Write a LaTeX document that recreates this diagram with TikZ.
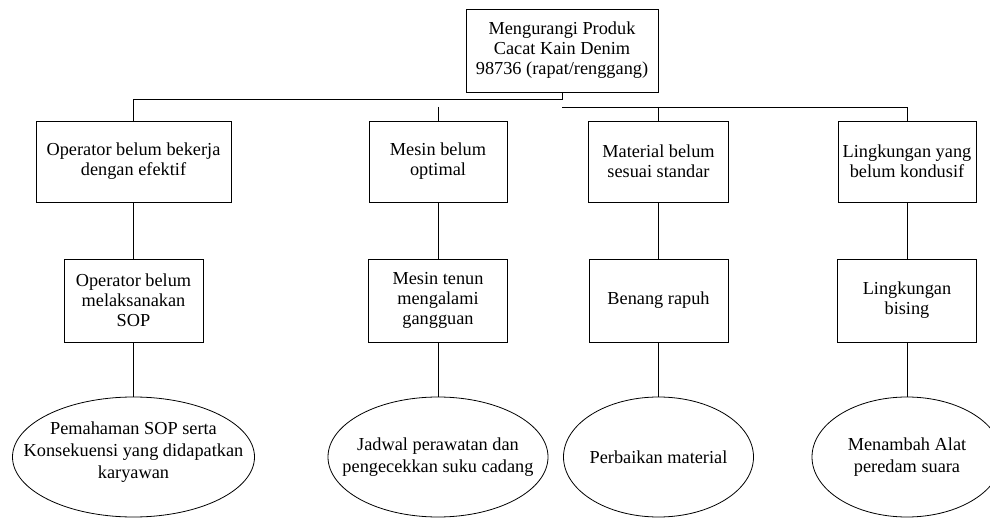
\documentclass[tikz,border=0pt]{standalone}
\usepackage{fontspec}
\setmainfont{Liberation Serif}
\usetikzlibrary{shapes.geometric}

\def\causey{161.5}
\def\suby{300.5}
\def\actiony{457}

\begin{document}
\begin{tikzpicture}[x=1pt,y=-1pt,line width=0.8pt,font=\fontsize{18.3}{20}\selectfont]
  \tikzstyle{box}=[draw,rectangle,align=center,inner sep=0pt]
  \tikzstyle{goal}=[box,minimum width=192pt,minimum height=83pt]
  \tikzstyle{cause}=[box,minimum height=81pt]
  \tikzstyle{subcause}=[box,minimum width=139pt,minimum height=83pt]
  \tikzstyle{action}=[draw,ellipse,inner sep=0pt,minimum height=120pt]
  \tikzstyle{action text}=[align=center,inner sep=0pt,font=\fontsize{18.3}{21.7}\selectfont]

  \useasboundingbox (0,0) rectangle (990,518);

  % Draw the goal node
  \node[goal] (G) at (562,50.5) {Mengurangi Produk\\Cacat Kain Denim\\98736 (rapat/renggang)};

  % Draw the cause nodes
  \foreach \name / \x / \w / \txt in {1/133.5/195/{Operator belum bekerja\\dengan efektif},
    2/438/138/{Mesin belum\\optimal}, 3/658.5/140/{Material belum\\sesuai standar},
    4/907/138/{Lingkungan yang\\belum kondusif}}
  \node[cause, minimum width=\w pt] (C-\name) at (\x,\causey) {\txt};

  % Draw the sub-cause nodes
  \foreach \name / \x / \txt in {1/133.5/{Operator belum\\melaksanakan\\SOP},
    2/438/{Mesin tenun\\mengalami\\gangguan}, 3/658.5/{Benang rapuh},
    4/907/{Lingkungan\\bising}}
  \node[subcause] (S-\name) at (\x,\suby) {\txt};

  % Draw the action nodes (ellipse, then its text)
  \foreach \name / \x / \w / \dy / \txt in {1/133.5/242/-5/{Pemahaman SOP serta\\Konsekuensi yang didapatkan\\karyawan},
    2/438/220/0/{Jadwal perawatan dan\\pengecekkan suku cadang}, 3/658.5/190/0/{Perbaikan material},
    4/907/190/0/{Menambah Alat\\peredam suara}}
  {
    \node[action, minimum width=\w pt] (A-\name) at (\x,\actiony) {};
    \node[action text, yshift=-\dy pt] (A-\name-t) at (A-\name) {\txt};
  }

  % Connect nodes
  \coordinate (bus-1) at (562,99);
  \coordinate (bus-2) at (562,107);
  \draw (G.south) -- (bus-1) -| (C-1.north);
  \draw (bus-2) -| (C-4.north);
  \draw (bus-2 -| C-3.north) -- (C-3.north);
  \draw (bus-2 -| C-2.north) -- (C-2.north);

  \foreach \i in {1,...,4}
  {
    \draw (C-\i) -- (S-\i);
    \draw (S-\i) -- (A-\i);
  }
\end{tikzpicture}
\end{document}
